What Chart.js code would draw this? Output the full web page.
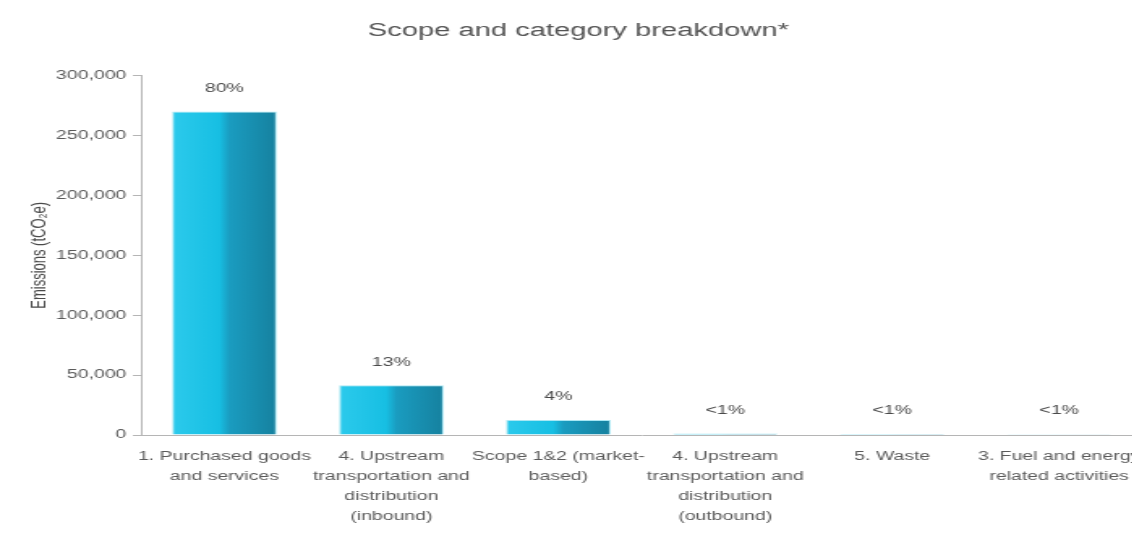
<!DOCTYPE html>
<html>
<head>
<meta charset="utf-8">
<script src="https://cdn.jsdelivr.net/npm/chart.js@4.4.1/dist/chart.umd.min.js"></script>
<style>
    html, body { margin: 0; padding: 0; background: #fff; overflow: hidden; }
    body { width: 1132px; height: 534px; }
    /* the reference is stretched sideways, so the chart is drawn narrow and widened */
    #wrap { width: 716px; height: 534px; transform: scaleX(1.62); transform-origin: 0 0; }
</style>
</head>
<body>
<div id="wrap"><canvas id="scopeChart" width="716" height="534"></canvas></div>
<script>
const categories = [
    ["1. Purchased goods", "and services"],
    ["4. Upstream", "transportation and", "distribution", "(inbound)"],
    ["Scope 1&2 (market-", "based)"],
    ["4. Upstream", "transportation and", "distribution", "(outbound)"],
    ["5. Waste"],
    ["3. Fuel and energy", "related activities"]
];
const emissions = [270000, 41500, 12500, 1200, 900, 700]; // tCO2e
const shares = ["80%", "13%", "4%", "<1%", "<1%", "<1%"];
const yTicks = [0, 50000, 100000, 150000, 200000, 250000, 300000];

const barPct = 0.627;
const fontFamily = "'Liberation Sans', Arial, sans-serif";

// two-tone bar: bright cyan left half, darker teal right half
function barFill(ctx) {
    const chart = ctx.chart;
    const xs = chart.scales.x;
    if (!xs || ctx.dataIndex === undefined) return "#1bb4da";
    const cx = xs.getPixelForValue(ctx.dataIndex);
    const half = xs.width / categories.length * barPct / 2;
    if (!isFinite(cx) || !isFinite(half) || half <= 0) return "#1bb4da";
    const g = chart.ctx.createLinearGradient(cx - half, 0, cx + half, 0);
    g.addColorStop(0, "#2ccaec");
    g.addColorStop(0.45, "#17bfe3");
    g.addColorStop(0.55, "#1a9cc0");
    g.addColorStop(1, "#16819f");
    return g;
}

const shareLabels = {
    id: "shareLabels",
    afterDatasetsDraw(chart) {
        const c = chart.ctx;
        const meta = chart.getDatasetMeta(0);
        c.save();
        c.font = "12px " + fontFamily;
        c.fillStyle = "#4a4a4a";
        c.textAlign = "center";
        c.textBaseline = "middle";
        meta.data.forEach((bar, i) => {
            c.fillText(shares[i], bar.x, bar.y - 23);
        });
        c.restore();
    }
};

const scopeChart = new Chart(document.getElementById("scopeChart"), {
    type: "bar",
    data: {
        labels: categories,
        datasets: [{
            data: emissions,
            backgroundColor: barFill,
            borderColor: "rgba(160, 228, 242, 0.9)",
            borderWidth: 1,
            barPercentage: barPct,
            categoryPercentage: 1
        }]
    },
    options: {
        responsive: false,
        animation: false,
        layout: {
            padding: { left: 0, right: 2, top: 0, bottom: 0 }
        },
        plugins: {
            legend: { display: false },
            tooltip: { enabled: false },
            title: {
                display: true,
                text: "Scope and category breakdown*",
                color: "#555555",
                font: { family: fontFamily, size: 18, weight: "normal" },
                padding: { top: 20, bottom: 34 }
            }
        },
        scales: {
            x: {
                afterFit(scale) { scale.height = 99; },
                grid: { display: false, drawTicks: false },
                border: { display: true, color: "#b5b5b5", width: 1 },
                ticks: {
                    color: "#5a5a5a",
                    font: { family: fontFamily, size: 12, lineHeight: 1.65 },
                    padding: 12,
                    maxRotation: 0,
                    minRotation: 0,
                    autoSkip: false
                }
            },
            y: {
                min: 0,
                max: 300000,
                afterFit(scale) { scale.width = 87; },
                afterBuildTicks(scale) {
                    scale.ticks = yTicks.map(v => ({ value: v }));
                },
                grid: { drawOnChartArea: false, tickLength: 5, color: "#b5b5b5" },
                border: { display: true, color: "#b5b5b5", width: 1 },
                ticks: {
                    color: "#5a5a5a",
                    font: { family: fontFamily, size: 12 },
                    padding: 4,
                    callback: v => v.toLocaleString("en-US")
                },
                title: {
                    display: true,
                    text: "Emissions (tCO₂e)",
                    color: "#4a4a4a",
                    font: { family: fontFamily, size: 13 },
                    padding: { top: 17, bottom: 0 }
                }
            }
        }
    },
    plugins: [shareLabels]
});
</script>
</body>
</html>
